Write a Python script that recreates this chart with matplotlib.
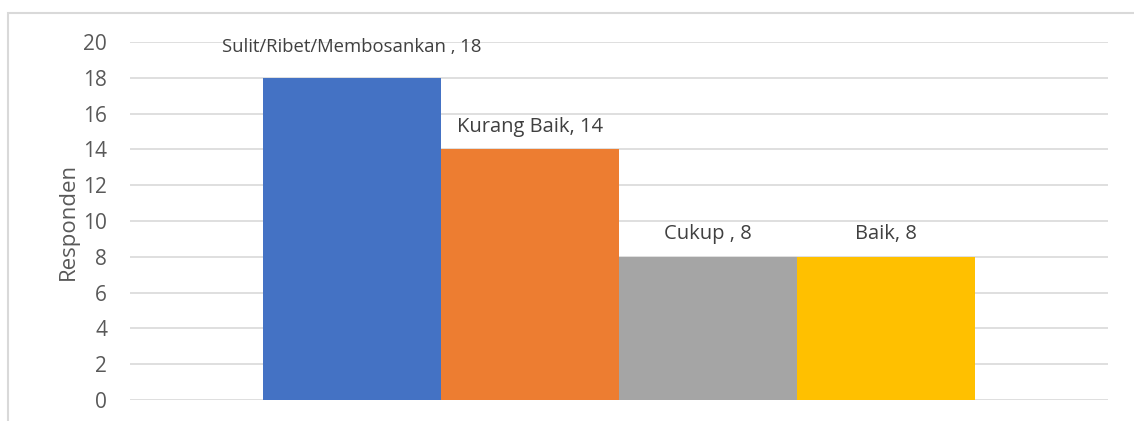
import matplotlib
matplotlib.use('Agg')
import matplotlib.pyplot as plt
from matplotlib.patches import Rectangle

categories = ['Sulit/Ribet/Membosankan ', 'Kurang Baik', 'Cukup ', 'Baik']
values = [18, 14, 8, 8]
colors = ['#4472C4', '#ED7D31', '#A5A5A5', '#FFC000']
yticks = [0, 2, 4, 6, 8, 10, 12, 14, 16, 18, 20]

plt.rcParams['font.family'] = ['Open Sans', 'DejaVu Sans']

fig = plt.figure(figsize=(11.34, 4.21), dpi=100)
ax = fig.add_axes([0.1146, 0.0499, 0.8624, 0.8503])

# chart frame (only left and top edges are visible in the crop)
fig.patches.append(Rectangle((0.007, -0.5), 1.5, 0.5 + 0.969, transform=fig.transFigure,
                             fill=False, edgecolor='#d9d9d9', linewidth=1.5, zorder=0))

x = list(range(len(values)))
ax.bar(x, values, width=1.0, color=colors, zorder=3)

for i, (cat, v) in enumerate(zip(categories, values)):
    if i == 0:
        ax.text(i, v + 1.44, f'{cat}, {v}', ha='center', va='baseline', fontsize=13.3, color='#404040')
    else:
        ax.text(i, v + 1.0, f'{cat}, {v}', ha='center', va='baseline', fontsize=14.5, color='#404040')

ax.set_xlim(-1.247, 4.247)
ax.set_ylim(0, 20)
ax.set_yticks(yticks)
ax.set_xticks([])
ax.yaxis.grid(True, color='#d9d9d9', linewidth=1.2, zorder=0)
ax.set_axisbelow(True)
for s in ax.spines.values():
    s.set_visible(False)
ax.tick_params(axis='y', length=0, pad=16.5, labelsize=15, labelcolor='#595959')
ax.set_ylabel('Responden', fontsize=16, color='#595959', labelpad=3)

fig.savefig('out.png', dpi=100)
